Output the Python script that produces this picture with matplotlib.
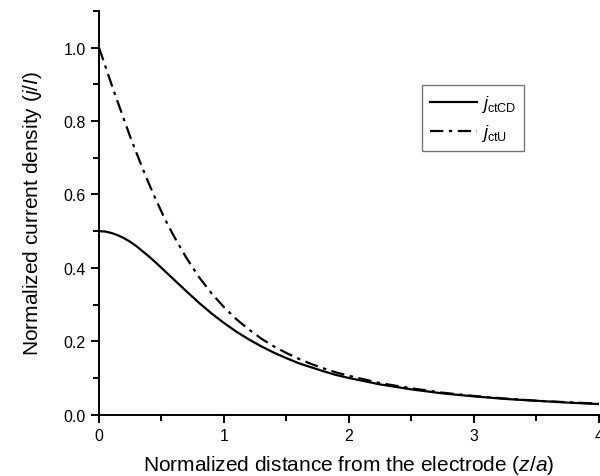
import matplotlib
matplotlib.use('Agg')
import matplotlib.pyplot as plt
from matplotlib.ticker import MultipleLocator, FormatStrFormatter

plt.rcParams['font.family'] = ['Liberation Sans', 'DejaVu Sans']
plt.rcParams['mathtext.fontset'] = 'custom'
plt.rcParams['mathtext.rm'] = 'Liberation Sans'
plt.rcParams['mathtext.it'] = 'Liberation Sans:italic'

# distance from the electrode (z/a)
z = [0.0, 0.05, 0.1, 0.15, 0.2, 0.25, 0.3, 0.35, 0.4, 0.45, 0.5, 0.55, 0.6,
     0.7, 0.8, 0.9, 1.0, 1.1, 1.2, 1.3, 1.4, 1.5, 1.6, 1.7, 1.8, 1.9,
     2.0, 2.25, 2.5, 2.75, 3.0, 3.25, 3.5, 3.75, 4.0]

# jctCD curve (solid)
j_cd = [0.500, 0.499, 0.495, 0.489, 0.481, 0.471, 0.459, 0.445, 0.431, 0.416,
        0.400, 0.384, 0.368,
        0.336, 0.305, 0.276, 0.250, 0.226, 0.205, 0.186, 0.169, 0.154, 0.140,
        0.129, 0.118, 0.108,
        0.100, 0.0825, 0.069, 0.058, 0.050, 0.043, 0.038, 0.033, 0.029]

# jctU curve (dash-dot)
j_u = [1.000, 0.950, 0.900, 0.852, 0.804, 0.757, 0.713, 0.670, 0.629, 0.590,
       0.553, 0.518, 0.486,
       0.427, 0.375, 0.331, 0.293, 0.260, 0.232, 0.207, 0.186, 0.168, 0.152,
       0.138, 0.126, 0.115,
       0.106, 0.086, 0.072, 0.060, 0.051, 0.044, 0.038, 0.034, 0.030]

fig = plt.figure(figsize=(6.0, 4.77), dpi=100)
ax = fig.add_axes([0.165, 0.1285, 0.833, 0.8465])

ax.plot(z, j_cd, color='black', lw=1.6, label=r'$j_{\mathrm{ctCD}}$')
ax.plot(z, j_u, color='black', lw=1.6, linestyle=(0, (6, 2.5, 1.5, 2.5)),
        label=r'$j_{\mathrm{ctU}}$')

ax.set_xlim(0, 4)
ax.set_ylim(0, 1.1)
ax.xaxis.set_major_locator(MultipleLocator(1))
ax.xaxis.set_minor_locator(MultipleLocator(0.5))
ax.yaxis.set_major_locator(MultipleLocator(0.2))
ax.yaxis.set_minor_locator(MultipleLocator(0.1))
ax.yaxis.set_major_formatter(FormatStrFormatter('%.1f'))

for side in ['top', 'right']:
    ax.spines[side].set_visible(False)
for side in ['left', 'bottom']:
    ax.spines[side].set_linewidth(1.4)

ax.tick_params(which='major', direction='out', length=6, width=1.4, labelsize=11.5)
ax.tick_params(which='minor', direction='out', length=4, width=1.4)

ax.set_xlabel('Normalized distance from the electrode ($z$/$a$)', fontsize=15, labelpad=7)
ax.set_ylabel('Normalized current density ($j$/$I$)', fontsize=15, labelpad=14)

leg = ax.legend(loc='upper left', bbox_to_anchor=(0.646, 0.817), borderaxespad=0,
                fontsize=13, frameon=True, fancybox=False, edgecolor='#555555',
                handlelength=2.6, handletextpad=0.2, borderpad=0.45, labelspacing=0.45)
leg.get_frame().set_linewidth(1.0)

fig.savefig('out.png', dpi=100)
